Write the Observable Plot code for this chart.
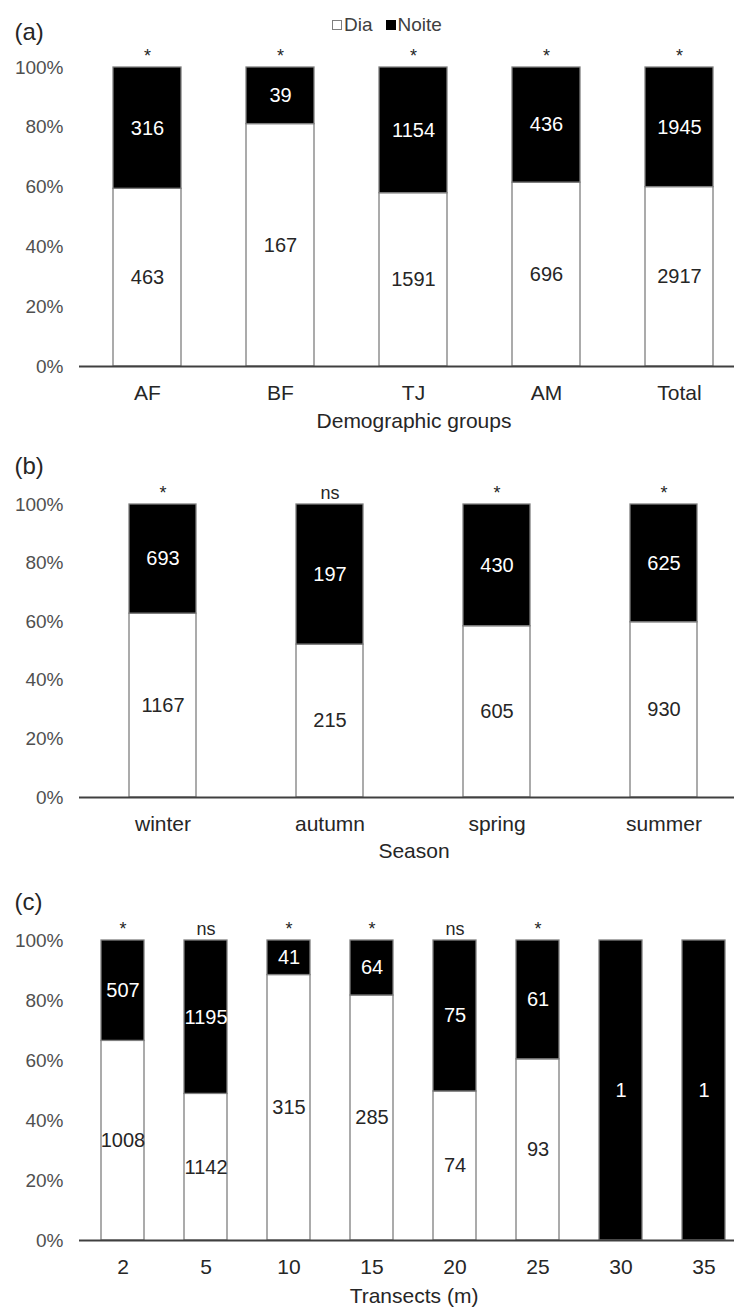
<!DOCTYPE html>
<html>
<head>
<meta charset="utf-8">
<script src="https://cdn.jsdelivr.net/npm/d3@7"></script>
<script src="https://cdn.jsdelivr.net/npm/@observablehq/plot@0.6"></script>
<style>
  body { margin: 0; background: #fff; font-family: "Liberation Sans", Arial, sans-serif; }
  #wrap { position: relative; width: 734px; }
  #legend { position: absolute; top: 15px; left: 332px; font-size: 19px; color: #404040; display: flex; align-items: center; line-height: 20px; }
  .sw { display: inline-block; width: 10px; height: 10px; margin-right: 2px; box-sizing: border-box; }
  svg { display: block; }
</style>
</head>
<body>
<div id="wrap">
  <div id="legend">
    <span class="sw" style="background:#fff;border:1px solid #7f7f7f"></span><span>Dia</span>
    <span class="sw" style="background:#000;margin-left:13px"></span><span>Noite</span>
  </div>
</div>
<script>
// ---- data ----
const periods = ["Dia", "Noite"];
const yTicks = [0, 0.2, 0.4, 0.6, 0.8, 1];

const groups = ["AF", "BF", "TJ", "AM", "Total"];
const groupDia = [463, 167, 1591, 696, 2917];
const groupNoite = [316, 39, 1154, 436, 1945];
const groupSig = ["*", "*", "*", "*", "*"];

const seasons = ["winter", "autumn", "spring", "summer"];
const seasonDia = [1167, 215, 605, 930];
const seasonNoite = [693, 197, 430, 625];
const seasonSig = ["*", "ns", "*", "*"];

const transects = ["2", "5", "10", "15", "20", "25", "30", "35"];
const transectDia = [1008, 1142, 315, 285, 74, 93, 0, 0];
const transectNoite = [507, 1195, 41, 64, 75, 61, 1, 1];
const transectSig = ["*", "ns", "*", "*", "ns", "*", "", ""];

function panel(o) {
  const rows = [];
  o.cats.forEach((c, i) => {
    rows.push({cat: c, period: "Dia", n: o.dia[i]});
    rows.push({cat: c, period: "Noite", n: o.noite[i]});
  });
  const sigRows = o.cats.map((c, i) => ({cat: c, sig: o.sig[i]}));
  const st = {x: "cat", y: "n", z: "period", offset: "normalize", order: periods};
  return Plot.plot({
    width: 734,
    height: o.height,
    marginTop: o.marginTop,
    marginBottom: o.marginBottom,
    marginLeft: 79,
    marginRight: 0,
    style: {fontFamily: '"Liberation Sans", Arial, sans-serif', fontSize: "19px", color: "#505050", background: "white"},
    x: {domain: o.cats, range: [79, 747], paddingInner: o.pad, paddingOuter: o.pad / 2},
    y: {domain: [0, 1]},
    color: {domain: periods, range: ["white", "black"]},
    marks: [
      Plot.barY(rows, Plot.stackY({...st, fill: "period", stroke: "#7f7f7f", strokeWidth: 1.3})),
      Plot.text(rows, Plot.stackY({...st, text: d => (d.period === "Dia" && d.n > 0) ? String(d.n) : "", fill: "#262626", fontSize: 20})),
      Plot.text(rows, Plot.stackY({...st, text: d => (d.period === "Noite" && d.n > 0) ? String(d.n) : "", fill: "white", fontSize: 20})),
      Plot.text(sigRows, {x: "cat", text: "sig", frameAnchor: "top", dy: -18, fill: "#262626", fontSize: 18}),
      Plot.ruleY([0], {stroke: "#404040", strokeWidth: 2}),
      Plot.axisY({ticks: yTicks, tickFormat: d3.format(".0%"), tickSize: 0, tickPadding: 16, label: null}),
      Plot.axisX({tickSize: 0, tickPadding: 19, label: null, fill: "#262626", fontSize: 21}),
      Plot.text([o.title], {frameAnchor: "bottom", dx: 7, dy: o.titleDy, fill: "#262626", fontSize: 21}),
      Plot.text([o.letter], {frameAnchor: "top-left", textAnchor: "start", dx: -65, dy: o.letterDy, fill: "#262626", fontSize: 24})
    ]
  });
}

const wrap = document.getElementById("wrap");
wrap.appendChild(panel({cats: groups, dia: groupDia, noite: groupNoite, sig: groupSig, letter: "(a)", title: "Demographic groups",
  height: 440, marginTop: 67, marginBottom: 74, pad: 0.487, letterDy: -45, titleDy: 61}));
wrap.appendChild(panel({cats: seasons, dia: seasonDia, noite: seasonNoite, sig: seasonSig, letter: "(b)", title: "Season",
  height: 430, marginTop: 64, marginBottom: 73, pad: 0.596, letterDy: -48, titleDy: 60}));
wrap.appendChild(panel({cats: transects, dia: transectDia, noite: transectNoite, sig: transectSig, letter: "(c)", title: "Transects (m)",
  height: 441, marginTop: 70, marginBottom: 71, pad: 0.485, letterDy: -48, titleDy: 62}));
</script>
</body>
</html>
